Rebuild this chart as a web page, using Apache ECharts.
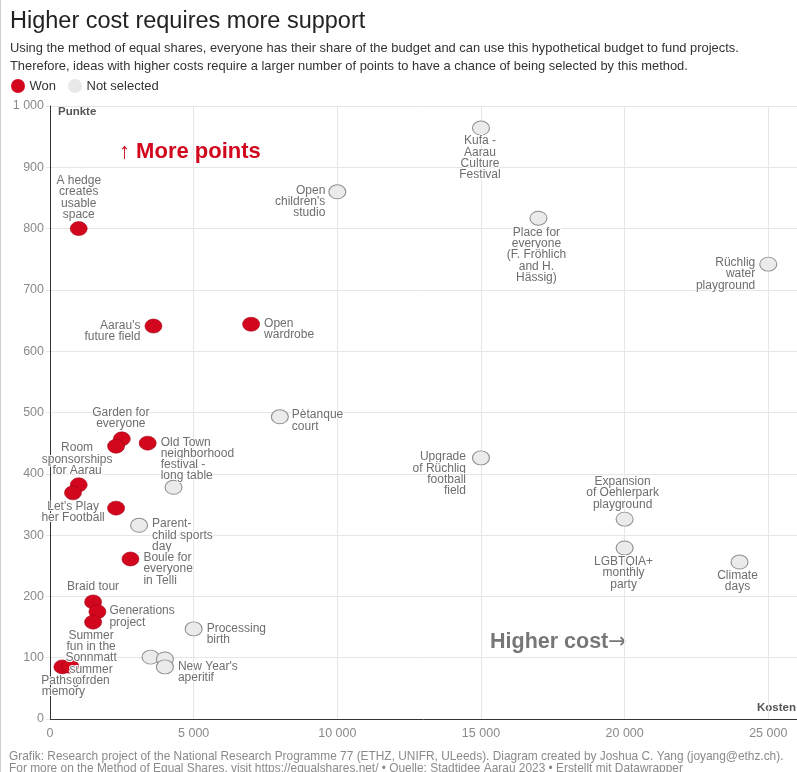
<!DOCTYPE html>
<html>
<head>
<meta charset="utf-8">
<script src="https://cdn.jsdelivr.net/npm/echarts@6/dist/echarts.min.js"></script>
<style>
  html, body { margin: 0; padding: 0; background: #fff; }
  #chart { width: 797px; height: 772px; }
</style>
</head>
<body>
<div id="chart"></div>
<script>
// projekte die gewonnen haben
const wonNames = [
  'A hedge\ncreates\nusable\nspace',
  "Aarau's\nfuture field",
  'Open\nwardrobe',
  'Garden for\neveryone',
  'Room\nsponsorships\nfor Aarau',
  'Old Town\nneighborhood\nfestival -\nlong table',
  '',
  '',
  "Let's Play\nher Football",
  'Boule for\neveryone\nin Telli',
  'Braid tour',
  'Generations\nproject',
  'Summer\nfun in the\nSonnmatt\nsummer\ngarden',
  'Paths of\nmemory',
  ''
]
const wonCost = [1000, 3600, 7000, 2500, 2300, 3400, 1000, 800, 2300, 2800, 1500, 1650, 1500, 430, 700]
const wonPoints = [800, 641, 644, 457, 445, 450, 382, 369, 344, 261, 191, 175, 158, 85, 86]

// nicht ausgewählt
const notNames = [
  'Kufa -\nAarau\nCulture\nFestival',
  "Open\nchildren's\nstudio",
  'Place for\neveryone\n(F. Fröhlich\nand H.\nHässig)',
  'Rüchlig\nwater\nplayground',
  'Pètanque\ncourt',
  'Upgrade\nof Rüchlig\nfootball\nfield',
  'Expansion\nof Oehlerpark\nplayground',
  'LGBTQIA+\nmonthly\nparty',
  'Climate\ndays',
  'Parent-\nchild sports\nday',
  '',
  'Processing\nbirth',
  '',
  '',
  "New Year's\naperitif"
]
const notCost = [15000, 10000, 17000, 25000, 8000, 15000, 20000, 20000, 24000, 3100, 4300, 5000, 3500, 4000, 4000]
const notPoints = [964, 860, 817, 742, 493, 426, 326, 279, 256, 316, 378, 147, 101, 98, 85]

const xTicks = [0, 5000, 10000, 15000, 20000, 25000]
const yTicks = [0, 100, 200, 300, 400, 500, 600, 700, 800, 900, 1000]

// label placement relative to the dot: [dx, dy, align]
const wonLabelPos = [
  [0, -31, 'center'], [-13, 5, 'right'], [13, 5, 'left'], [-1, -21, 'center'],
  [-39, 13, 'center'], [13, 16, 'left'], [0, 0, 'center'], [0, 0, 'center'],
  [-43, 4, 'center'], [13, 10, 'left'], [0, -15, 'center'], [12, 5, 'left'],
  [-2, 36, 'center'], [1, 19, 'center'], [0, 0, 'center']
]
const notLabelPos = [
  [-1, 30, 'center'], [-12, 10, 'right'], [-2, 37, 'center'], [-13, 10, 'right'],
  [12, 4, 'left'], [-15, 16, 'right'], [-2, -26, 'center'], [-1, 25, 'center'],
  [-2, 19, 'center'], [13, 10, 'left'], [0, 0, 'center'], [13, 5, 'left'],
  [0, 0, 'center'], [0, 0, 'center'], [13, 5, 'left']
]

const FONT = '"Liberation Sans", Arial, sans-serif'
const RED = '#d2071e'
const GREY = '#ebebeb'

const fmt = (n) => String(n).replace(/\B(?=(\d{3})+(?!\d))/g, ' ')

function buildData(names, xs, ys, pos) {
  return xs.map((x, i) => ({
    value: [x, ys[i]],
    label: {
      show: names[i] !== '',
      formatter: names[i],
      position: 'inside',
      offset: [pos[i][0], pos[i][1]],
      align: pos[i][2],
      verticalAlign: 'middle'
    }
  }))
}

const labelStyle = {
  color: '#6e6e6e',
  fontFamily: FONT,
  fontSize: 12,
  lineHeight: 11.3,
  textBorderColor: '#fff',
  textBorderWidth: 2
}

const myChart = echarts.init(document.getElementById('chart'))

myChart.setOption({
  animation: false,
  textStyle: { fontFamily: FONT },
  title: [
    {
      text: 'Higher cost requires more support',
      left: 5,
      top: 5,
      textStyle: { fontSize: 23.5, fontWeight: 'normal', color: '#222', fontFamily: FONT }
    },
    {
      text: 'Using the method of equal shares, everyone has their share of the budget and can use this hypothetical budget to fund projects.\nTherefore, ideas with higher costs require a larger number of points to have a chance of being selected by this method.',
      left: 5,
      top: 35,
      textStyle: { fontSize: 12.9, fontWeight: 'normal', color: '#333', lineHeight: 17.5, fontFamily: FONT }
    }
  ],
  legend: {
    left: 6,
    top: 74,
    itemWidth: 15,
    itemHeight: 14,
    itemGap: 12,
    icon: 'circle',
    itemStyle: { borderWidth: 0 },
    textStyle: { fontSize: 13, color: '#333', fontFamily: FONT, padding: [0, 0, 0, -1] },
    data: [
      { name: 'Won', itemStyle: { color: RED, borderWidth: 0 } },
      { name: 'Not selected', itemStyle: { color: '#e8e8e8', borderWidth: 0 } }
    ]
  },
  grid: { left: 50, right: 0, top: 106, bottom: 53 },
  xAxis: {
    type: 'value',
    min: 0,
    max: 26000,
    interval: 5000,
    axisLine: { show: true, lineStyle: { color: '#333', width: 1 } },
    axisTick: { show: false },
    axisLabel: {
      color: '#8a8a8a',
      fontSize: 12.5,
      margin: 8,
      showMaxLabel: false,
      formatter: (v) => (xTicks.includes(v) ? fmt(v) : '')
    },
    splitLine: { show: true, lineStyle: { color: '#e6e6e6' } }
  },
  yAxis: {
    type: 'value',
    min: 0,
    max: 1000,
    interval: 100,
    axisLine: { show: true, lineStyle: { color: '#333', width: 1 } },
    axisTick: { show: true, length: 4, lineStyle: { color: '#e6e6e6' } },
    axisLabel: {
      color: '#8a8a8a',
      fontSize: 12.5,
      margin: 6,
      formatter: (v) => (yTicks.includes(v) ? fmt(v) : '')
    },
    splitLine: { show: true, lineStyle: { color: '#e6e6e6' } }
  },
  series: [
    {
      name: 'Not selected',
      type: 'scatter',
      symbol: 'circle',
      symbolSize: [17, 14],
      itemStyle: { color: GREY, borderColor: '#8f8f8f', borderWidth: 1, opacity: 1 },
      label: labelStyle,
      emphasis: { disabled: true },
      data: buildData(notNames, notCost, notPoints, notLabelPos)
    },
    {
      name: 'Won',
      type: 'scatter',
      symbol: 'circle',
      symbolSize: [17, 14],
      itemStyle: { color: RED, borderColor: '#a00013', borderWidth: 0.6, opacity: 1 },
      label: labelStyle,
      emphasis: { disabled: true },
      data: buildData(wonNames, wonCost, wonPoints, wonLabelPos)
    }
  ],
  graphic: [
    { type: 'line', shape: { x1: 0.5, y1: 0, x2: 0.5, y2: 772 }, style: { stroke: '#cfcfcf', lineWidth: 1 } },
    {
      type: 'text', left: 58, top: 106,
      style: { text: 'Punkte', fontSize: 11.5, fontWeight: 'bold', fill: '#555', fontFamily: FONT }
    },
    {
      type: 'text', right: 1, top: 702,
      style: { text: 'Kosten', fontSize: 11.5, fontWeight: 'bold', fill: '#555', fontFamily: FONT }
    },
    {
      type: 'text', left: 119, top: 141,
      style: { text: '↑ More points', fontSize: 22, fontWeight: 'bold', fill: RED, fontFamily: FONT }
    },
    {
      type: 'text', left: 490, top: 631,
      style: {
        text: '{a|Higher cost}{b|→}',
        fill: '#777',
        rich: {
          a: { fontSize: 21.5, fontWeight: 'bold', fill: '#777', fontFamily: FONT },
          b: { fontSize: 22, fontWeight: 'normal', fill: '#777', fontFamily: '"DejaVu Sans", sans-serif' }
        }
      }
    },
    {
      type: 'text', left: 9, top: 751,
      style: {
        text: 'Grafik: Research project of the National Research Programme 77 (ETHZ, UNIFR, ULeeds). Diagram created by Joshua C. Yang (joyang@ethz.ch).\nFor more on the Method of Equal Shares, visit https://equalshares.net/ • Quelle: Stadtidee Aarau 2023 • Erstellt mit Datawrapper',
        fontSize: 11.9, lineHeight: 11.5, fill: '#8a8a8a', fontFamily: FONT
      }
    }
  ]
})
</script>
</body>
</html>
